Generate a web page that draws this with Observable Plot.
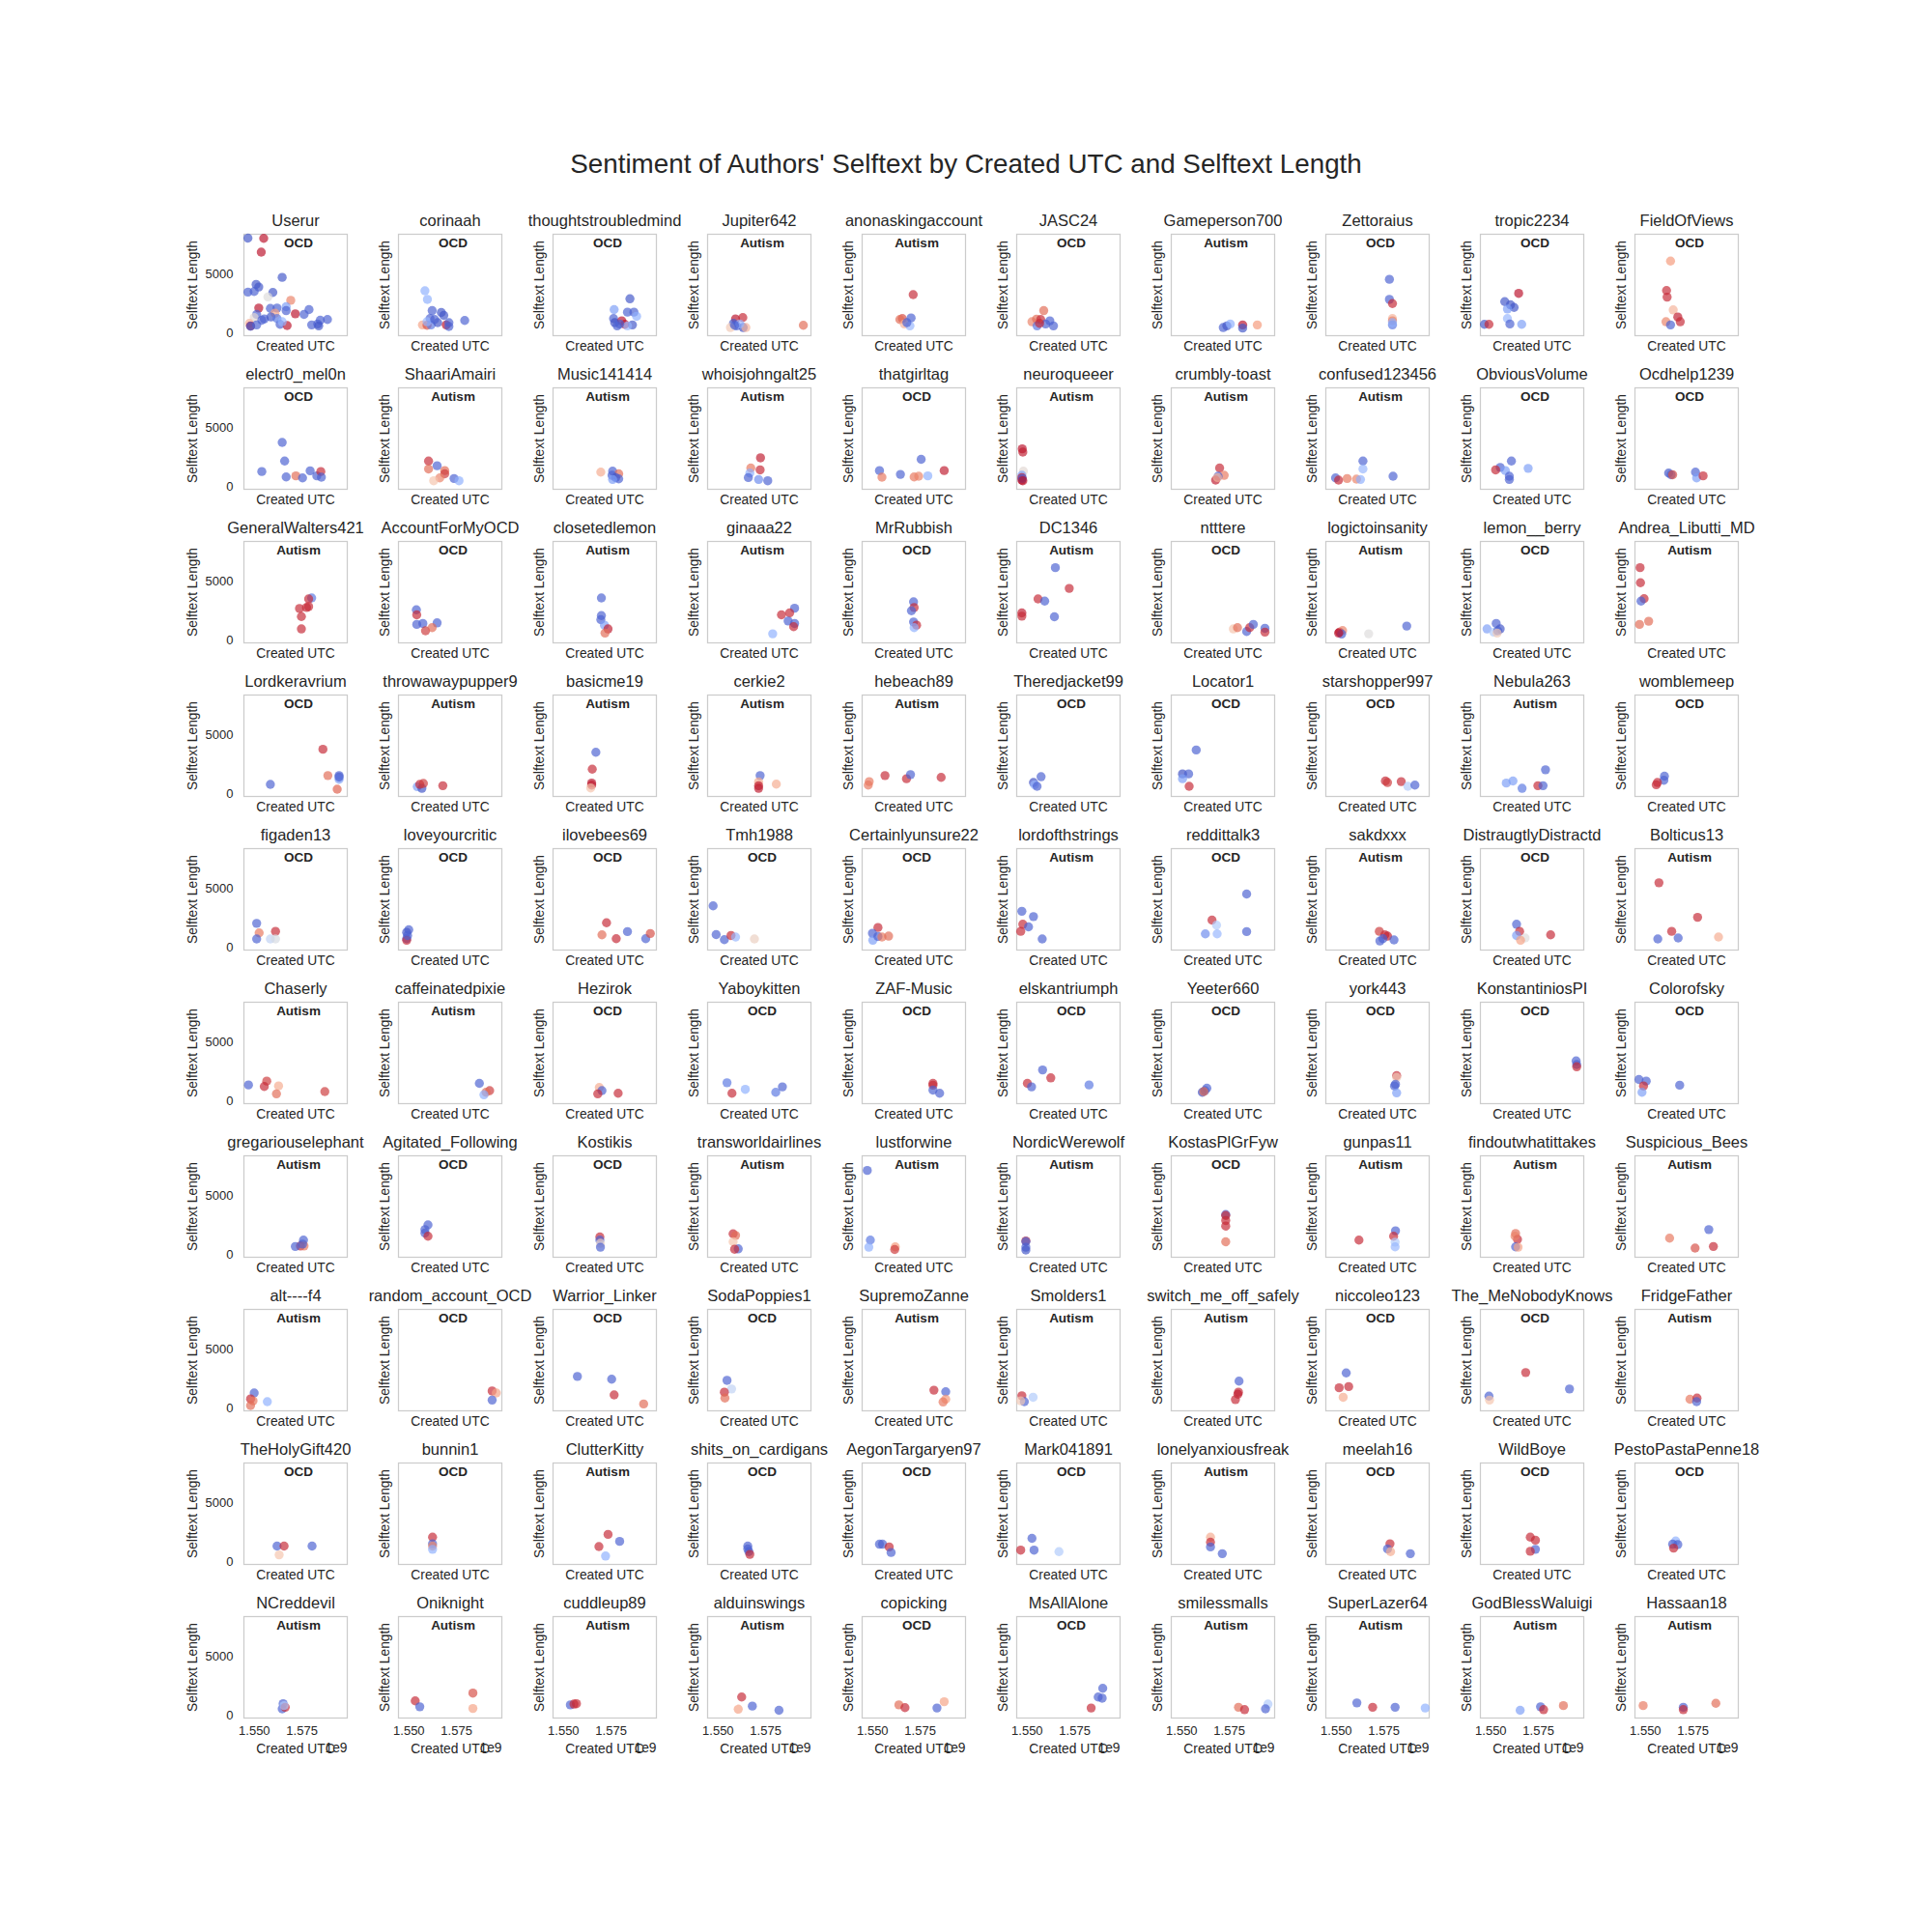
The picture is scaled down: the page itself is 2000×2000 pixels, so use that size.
<!DOCTYPE html>
<html><head><meta charset="utf-8">
<script src="https://cdn.jsdelivr.net/npm/d3@7"></script>
<script src="https://cdn.jsdelivr.net/npm/@observablehq/plot@0.6"></script>
<style>
html,body{margin:0;padding:0;background:#fff;}
#wrap{position:relative;width:2000px;height:2000px;background:#fff;font-family:"Liberation Sans",Arial,sans-serif;}
#title{position:absolute;left:0;top:156px;width:2000px;text-align:center;font-size:27.8px;line-height:28px;color:#262626;z-index:2;}
#chart{position:absolute;left:0;top:0;z-index:1;}
</style></head>
<body><div id="wrap"><div id="chart"></div><div id="title">Sentiment of Authors' Selftext by Created UTC and Selftext Length</div></div>
<script>
const authors = ["Userur","corinaah","thoughtstroubledmind","Jupiter642","anonaskingaccount","JASC24","Gameperson700","Zettoraius","tropic2234","FieldOfViews",
"electr0_mel0n","ShaariAmairi","Music141414","whoisjohngalt25","thatgirltag","neuroqueeer","crumbly-toast","confused123456","ObviousVolume","Ocdhelp1239",
"GeneralWalters421","AccountForMyOCD","closetedlemon","ginaaa22","MrRubbish","DC1346","ntttere","logictoinsanity","lemon__berry","Andrea_Libutti_MD",
"Lordkeravrium","throwawaypupper9","basicme19","cerkie2","hebeach89","Theredjacket99","Locator1","starshopper997","Nebula263","womblemeep",
"figaden13","loveyourcritic","ilovebees69","Tmh1988","Certainlyunsure22","lordofthstrings","reddittalk3","sakdxxx","DistraugtlyDistractd","Bolticus13",
"Chaserly","caffeinatedpixie","Hezirok","Yaboykitten","ZAF-Music","elskantriumph","Yeeter660","york443","KonstantiniosPI","Colorofsky",
"gregariouselephant","Agitated_Following","Kostikis","transworldairlines","lustforwine","NordicWerewolf","KostasPlGrFyw","gunpas11","findoutwhatittakes","Suspicious_Bees",
"alt----f4","random_account_OCD","Warrior_Linker","SodaPoppies1","SupremoZanne","Smolders1","switch_me_off_safely","niccoleo123","The_MeNobodyKnows","FridgeFather",
"TheHolyGift420","bunnin1","ClutterKitty","shits_on_cardigans","AegonTargaryen97","Mark041891","lonelyanxiousfreak","meelah16","WildBoye","PestoPastaPenne18",
"NCreddevil","Oniknight","cuddleup89","alduinswings","copicking","MsAllAlone","smilessmalls","SuperLazer64","GodBlessWaluigi","Hassaan18"];

const subreddit = ["OCD","OCD","OCD","Autism","Autism","OCD","Autism","OCD","OCD","OCD",
"OCD","Autism","Autism","Autism","OCD","Autism","Autism","Autism","OCD","OCD",
"Autism","OCD","Autism","Autism","OCD","Autism","OCD","Autism","OCD","Autism",
"OCD","Autism","Autism","Autism","Autism","OCD","OCD","OCD","Autism","OCD",
"OCD","OCD","OCD","OCD","OCD","Autism","OCD","Autism","OCD","Autism",
"Autism","Autism","OCD","OCD","OCD","OCD","OCD","OCD","OCD","OCD",
"Autism","OCD","OCD","Autism","Autism","Autism","OCD","Autism","Autism","Autism",
"Autism","OCD","OCD","OCD","Autism","Autism","Autism","OCD","OCD","Autism",
"OCD","OCD","Autism","OCD","OCD","OCD","Autism","OCD","OCD","OCD",
"Autism","Autism","Autism","Autism","OCD","OCD","Autism","Autism","Autism","Autism"];

// Created UTC, in units of 1e9 seconds
const createdUTC = [
[1.5466,1.5549,1.5536,1.5646,1.5509,1.5523,1.5466,1.5499,1.5597,1.5571,1.5691,1.5523,1.5584,1.5619,1.5667,1.5715,1.5787,1.5761,1.5608,1.5667,1.5512,1.5499,1.5552,1.5587,1.5474,1.5480,1.5480,1.5512,1.5635,1.5672,1.5801,1.5833,1.5846,1.5884,1.5838,1.5539,1.5619,1.5646],
[1.5584,1.5597,1.5622,1.5670,1.5683,1.5793,1.5571,1.5595,1.5611,1.5616,1.5651,1.5696,1.5710,1.5710,1.5595,1.5635],
[1.5849,1.5766,1.5836,1.5870,1.5884,1.5763,1.5769,1.5806,1.5822,1.5782,1.5862,1.5836,1.5795],
[1.5592,1.5630,1.5581,1.5597,1.5632,1.5565,1.5646,1.5614,1.5948,1.5587],
[1.5713,1.5656,1.5643,1.5702,1.5667,1.5696,1.5680],
[1.5587,1.5525,1.5549,1.5571,1.5552,1.5597,1.5619,1.5638,1.5565],
[1.5718,1.5737,1.5755,1.5820,1.5820,1.5897],
[1.5779,1.5779,1.5795,1.5795,1.5795,1.5795,1.5795],
[1.5646,1.5573,1.5603,1.5622,1.5587,1.5587,1.5600,1.5662,1.5466,1.5490],
[1.5632,1.5611,1.5614,1.5646,1.5670,1.5683,1.5608,1.5632],
[1.5646,1.5659,1.5539,1.5667,1.5718,1.5753,1.5793,1.5828,1.5849,1.5852],
[1.5603,1.5603,1.5648,1.5688,1.5688,1.5662,1.5630,1.5737,1.5763],
[1.5696,1.5758,1.5790,1.5755,1.5774,1.5790,1.5758],
[1.5723,1.5721,1.5672,1.5667,1.5659,1.5713,1.5761],
[1.5536,1.5549,1.5646,1.5718,1.5742,1.5755,1.5790,1.5876],
[1.5474,1.5477,1.5480,1.5472,1.5472,1.5472,1.5474,1.5477],
[1.5699,1.5723,1.5691,1.5678,1.5688],
[1.5640,1.5640,1.5496,1.5512,1.5557,1.5606,1.5627,1.5798],
[1.5608,1.5549,1.5525,1.5576,1.5696,1.5597,1.5597],
[1.5622,1.5635,1.5643,1.5763,1.5769,1.5803],
[1.5801,1.5785,1.5737,1.5774,1.5785,1.5747,1.5747],
[1.5539,1.5541,1.5541,1.5573,1.5648,1.5587,1.5622],
[1.5699,1.5699,1.5696,1.5715,1.5734,1.5718],
[1.5902,1.5876,1.5833,1.5868,1.5902,1.5897,1.5787],
[1.5715,1.5718,1.5704,1.5715,1.5731,1.5718],
[1.5648,1.5721,1.5557,1.5592,1.5472,1.5472,1.5643],
[1.5771,1.5793,1.5841,1.5857,1.5876,1.5937,1.5937],
[1.5517,1.5533,1.5528,1.5512,1.5670,1.5870],
[1.5528,1.5480,1.5549,1.5515,1.5536,1.5533],
[1.5472,1.5474,1.5493,1.5477,1.5517,1.5469],
[1.5584,1.5860,1.5886,1.5945,1.5945,1.5945,1.5935],
[1.5544,1.5568,1.5557,1.5576,1.5678],
[1.5670,1.5651,1.5648,1.5648,1.5643],
[1.5721,1.5713,1.5713,1.5713,1.5806],
[1.5482,1.5477,1.5565,1.5678,1.5699,1.5860],
[1.5573,1.5533,1.5539,1.5552],
[1.5576,1.5504,1.5536,1.5504,1.5539],
[1.5758,1.5769,1.5841,1.5876,1.5913],
[1.5787,1.5616,1.5581,1.5664,1.5747,1.5774],
[1.5600,1.5597,1.5563,1.5557],
[1.5512,1.5525,1.5512,1.5611,1.5584,1.5611],
[1.5499,1.5488,1.5488,1.5488,1.5493],
[1.5726,1.5702,1.5777,1.5836,1.5932,1.5956],
[1.5474,1.5490,1.5533,1.5568,1.5592,1.5691],
[1.5528,1.5499,1.5501,1.5528,1.5549,1.5584],
[1.5472,1.5533,1.5477,1.5507,1.5466,1.5579],
[1.5841,1.5659,1.5683,1.5624,1.5686,1.5841],
[1.5726,1.5755,1.5769,1.5729,1.5745,1.5803],
[1.5635,1.5651,1.5635,1.5680,1.5656,1.5814],
[1.5571,1.5774,1.5638,1.5565,1.5672,1.5884],
[1.5469,1.5565,1.5552,1.5627,1.5616,1.5870],
[1.5870,1.5924,1.5905,1.5894],
[1.5688,1.5702,1.5680,1.5787],
[1.5547,1.5573,1.5643,1.5803,1.5838],
[1.5817,1.5817,1.5817,1.5852],
[1.5581,1.5624,1.5501,1.5523,1.5825],
[1.5632,1.5622,1.5608,1.5616],
[1.5817,1.5817,1.5811,1.5806,1.5817],
[1.5948,1.5951,1.5951],
[1.5466,1.5504,1.5490,1.5482,1.5680],
[1.5758,1.5742,1.5715,1.5761,1.5753],
[1.5600,1.5584,1.5584,1.5600],
[1.5691,1.5691,1.5694,1.5694],
[1.5579,1.5592,1.5579,1.5606,1.5587],
[1.5472,1.5488,1.5480,1.5619,1.5616],
[1.5493,1.5493,1.5493,1.5493],
[1.5731,1.5731,1.5731,1.5731,1.5731],
[1.5619,1.5811,1.5801,1.5809,1.5809],
[1.5630,1.5640,1.5627,1.5630,1.5643],
[1.5627,1.5833,1.5761,1.5857],
[1.5499,1.5480,1.5493,1.5480,1.5568],
[1.5937,1.5959,1.5937],
[1.5573,1.5753,1.5766,1.5921],
[1.5547,1.5571,1.5533,1.5536],
[1.5822,1.5884,1.5884,1.5870],
[1.5472,1.5485,1.5531,1.5466],
[1.5801,1.5798,1.5795,1.5782],
[1.5552,1.5515,1.5565,1.5536],
[1.5683,1.5913,1.5490,1.5493],
[1.5734,1.5771,1.5769],
[1.5619,1.5656,1.5630,1.5803],
[1.5624,1.5624,1.5624,1.5624],
[1.5734,1.5795,1.5686,1.5721],
[1.5656,1.5656,1.5662,1.5667],
[1.5536,1.5552,1.5587,1.5597],
[1.5525,1.5466,1.5536,1.5667],
[1.5651,1.5651,1.5651,1.5713],
[1.5782,1.5769,1.5785,1.5889],
[1.5707,1.5734,1.5734,1.5707],
[1.5659,1.5643,1.5670,1.5648],
[1.5651,1.5646,1.5662,1.5656],
[1.5533,1.5557,1.5836,1.5836],
[1.5536,1.5555,1.5568],
[1.5624,1.5680,1.5606,1.5820],
[1.5638,1.5670,1.5838,1.5876],
[1.5897,1.5873,1.5894,1.5836],
[1.5798,1.5830,1.5953,1.5940],
[1.5608,1.5691,1.5809,1.5967],
[1.5654,1.5761,1.5777,1.5881],
[1.5488,1.5699,1.5699,1.5870]
];

const selftextLength = [
[8070,8050,6890,4750,4160,3940,3510,3560,3480,3100,2810,2160,2130,2160,2270,1670,2030,1620,1730,1940,1620,1350,1240,1400,860,650,620,730,780,675,730,810,1130,1190,650,1130,1270,1000],
[3620,2890,1940,1780,1540,1110,730,700,1270,730,920,730,920,600,1000,1190],
[2940,2030,1810,1810,1460,1270,920,1080,780,650,730,650,810],
[1240,1350,860,650,510,510,510,810,700,700],
[3290,1270,1190,1320,810,650,920],
[1940,1000,1220,1190,650,810,1080,650,860],
[510,650,810,730,460,730],
[4590,2890,2540,1270,1080,730,920],
[3400,2700,2430,2210,2080,1270,810,780,780,780],
[6130,3640,3080,2000,1400,1000,1000,730],
[3780,2210,1320,860,950,780,1380,950,1320,840],
[2210,1540,1810,1400,1130,780,540,730,540],
[1270,1350,1130,1000,810,700,650],
[2480,1460,1620,1190,810,650,540],
[1400,840,1080,860,920,2350,950,1400],
[3240,2970,1350,1000,810,600,730,540],
[1620,1000,920,600,810],
[2210,1540,780,600,730,680,650,920],
[2210,1670,1460,1400,1590,920,650],
[1190,1050,1050,1270,780,950],
[3620,3540,2730,2810,2890,2050,1000],
[2620,2190,1380,1460,1510,840,1110],
[3620,2130,1780,1320,1000,650],
[2750,2350,2190,1670,1460,1190,590],
[3290,2810,2540,1590,1320,1110],
[6180,4430,3540,3350,2350,2080,2030],
[1000,1110,780,1110,1380,1050,730],
[730,860,570,650,590,1240],
[1460,1000,1000,730,840,650],
[6180,4910,3560,3350,1650,1380],
[840,3810,1590,1590,1270,1460,430],
[650,510,840,920,730],
[3560,2130,950,780,540],
[1590,1050,730,510,860],
[1080,780,1590,1320,1670,1430],
[1490,1000,810,680],
[3750,1730,1730,1320,680],
[1130,1000,1080,680,780],
[2080,1130,950,510,730,730],
[1540,1190,1000,810],
[2080,1270,760,1400,760,760],
[1540,1320,780,650,1050],
[2130,1110,780,1380,780,1220],
[3560,1130,700,1050,920,760],
[1730,1240,650,970,920,1000],
[3100,2650,2000,1780,1400,760],
[4560,2350,1920,1190,1190,1380],
[1400,1110,1000,590,780,680],
[2000,1400,1050,840,650,1110],
[5510,2590,1400,760,840,920],
[1400,1730,1270,1320,650,840],
[1540,920,780,570],
[1190,920,650,700],
[1590,700,1030,780,1240],
[1540,1380,970,700],
[2670,2000,1540,1240,1400],
[1130,920,780,840],
[2190,2050,1460,1320,730],
[3430,3130,2940],
[1860,1730,1320,780,1380],
[1270,770,730,770,930],
[2560,2160,1860,1600],
[1530,1270,1000,670],
[1800,1670,1130,530,500],
[7160,1270,670,700,470],
[1200,1150,670,430],
[3430,3350,2930,2460,1130],
[1270,2060,1600,1100,700],
[1830,1330,1600,700,670],
[1430,2160,600,730],
[1330,830,670,270,600],
[1500,1330,730],
[2730,2500,1170,400],
[2400,1670,1400,900],
[1570,1430,800,570],
[1100,600,970,670],
[2330,1400,1230,770],
[3030,1770,1870,970],
[3060,1670,1070,730],
[800,900,600],
[1370,1370,630,1370],
[2130,1570,1370,1100],
[2360,1770,1330,530],
[1370,1130,900,670],
[1530,1530,1300,830],
[2030,1030,1030,900],
[2130,1700,1300,730],
[1570,1130,900,730],
[2130,1870,1100,930],
[1800,1530,1500,1200],
[1030,600,730,870],
[1270,770,1930,630],
[930,1000,1030],
[1600,830,570,470],
[930,700,670,1200],
[2330,1600,1500,670],
[730,530,1000,600],
[1100,730,730,670],
[470,770,530,870],
[870,730,530,1070]
];

const sentiment = [
[-0.95,0.96,0.96,-0.95,-0.95,-0.95,-0.9,-0.9,-0.95,0,0.6,0.96,-0.9,-0.9,-0.6,0.96,-0.9,-0.9,0.45,-0.9,-0.9,0.05,-0.9,-0.95,0.35,0.96,-0.95,-0.9,-0.9,0.96,-0.9,-0.9,-0.9,-0.9,-0.95,-0.9,-0.8,-0.45],
[-0.5,-0.5,-0.9,-0.95,-0.95,-0.9,0.45,0.8,-0.9,-0.8,-0.95,0.96,-0.9,-0.9,-0.45,-0.9],
[-0.95,-0.6,-0.9,-0.9,-0.5,-0.9,-0.98,0.96,0.96,-0.9,-0.95,-0.45,-0.9],
[0.96,0.9,-0.95,-0.9,-0.98,0.2,0.35,-0.45,0.7,-0.9],
[0.9,0.8,0.7,-0.9,0.35,-0.45,-0.9],
[0.7,0.6,0.7,0.9,-0.8,-0.9,-0.9,-0.9,0.9],
[-0.9,-0.95,-0.5,0.96,-0.95,0.5],
[-0.9,-0.9,0.9,0.35,0.6,-0.8,-0.5],
[0.96,-0.95,-0.95,-0.95,-0.6,-0.45,-0.9,-0.6,-0.95,0.9],
[0.5,0.9,0.9,0.35,0.93,0.9,0.6,-0.9],
[-0.9,-0.9,-0.9,-0.9,0.7,-0.9,-0.9,-0.9,0.9,-0.9],
[0.9,0.7,-0.9,0.7,0.85,0.6,0.25,-0.9,-0.5],
[0.4,-0.9,0.7,-0.9,-0.95,-0.9,-0.6],
[0.93,0.9,0.65,-0.5,-0.9,-0.7,-0.9],
[-0.9,0.65,-0.9,0.65,0.6,-0.9,-0.5,0.93],
[0.96,0.93,0.05,-0.6,0.93,0.96,-0.9,0.96],
[0.9,0.65,-0.9,0.93,0.35],
[-0.9,-0.45,-0.9,0.9,0.65,0.6,-0.5,-0.9],
[-0.9,-0.9,0.9,-0.6,-0.6,-0.9,-0.9],
[-0.95,-0.9,0.8,-0.9,-0.6,0.9],
[-0.8,0.9,0.9,0.9,0.9,0.9,0.9],
[-0.9,0.9,-0.9,-0.9,-0.9,0.85,0.7],
[-0.9,-0.9,-0.9,-0.6,0.93,0.7],
[-0.9,0.9,0.9,-0.9,-0.9,0.9,-0.5],
[-0.9,0.9,-0.9,-0.9,0.9,-0.5],
[-0.9,0.9,0.9,-0.9,0.93,0.9,-0.9],
[0.25,0.7,-0.9,0.9,-0.9,-0.9,0.9],
[0.96,0.6,-0.9,0.96,0,-0.9],
[-0.9,-0.6,-0.95,-0.3,-0.9,0.2],
[0.9,0.9,0.9,-0.9,0.7,0.7],
[-0.9,0.9,0.7,-0.9,-0.6,-0.9,0.75],
[-0.6,-0.95,0.9,0.85,0.9],
[-0.9,0.9,0.96,0.93,0.25],
[-0.9,0.4,0.93,0.93,0.4],
[0.65,0.65,0.9,0.9,-0.9,0.9],
[-0.9,-0.98,-0.45,-0.9],
[-0.9,-0.98,-0.9,-0.6,0.9],
[0.9,0.85,0.9,-0.3,-0.9],
[-0.9,-0.6,-0.6,-0.8,0.9,-0.9],
[-0.9,-0.9,0.9,0.9],
[-0.9,0.65,-0.9,0.9,-0.2,-0.05],
[-0.9,-0.95,-0.9,0.9,-0.9],
[0.9,0.7,0.9,-0.9,-0.9,0.8],
[-0.9,-0.9,-0.9,0.9,-0.45,0.15],
[0.9,-0.9,-0.6,-0.9,0.65,0.7],
[-0.9,-0.9,0.9,-0.9,0.9,-0.9],
[-0.9,0.9,-0.3,-0.7,-0.45,-0.9],
[0.85,0.9,0.93,-0.9,-0.9,-0.9],
[-0.9,0.9,-0.6,0,0.45,0.9],
[0.9,0.9,0.9,-0.9,-0.9,0.4],
[-0.9,0.85,0.9,0.4,0.7,0.85],
[-0.9,0.85,0.7,-0.5],
[0.4,-0.9,0.9,0.9],
[-0.8,0.9,-0.5,-0.8,-0.9],
[0.9,0.9,-0.9,-0.9],
[-0.9,0.9,0.9,-0.9,-0.8],
[-0.9,-0.9,-0.98,0.7],
[0.9,0.2,-0.9,-0.9,-0.6],
[-0.9,-0.9,0.9],
[-0.9,-0.9,0.9,-0.6,-0.9],
[-0.9,0.9,-0.9,0.65,-0.9],
[-0.9,-0.9,-0.9,0.9],
[0.9,-0.9,0.1,-0.9],
[0.9,0.7,0.25,-0.9,0.9],
[-0.9,-0.8,-0.5,0.5,0.85],
[0.9,-0.9,-0.9,-0.95],
[-0.9,0.9,0.9,0.9,0.7],
[0.9,-0.9,0.9,-0.3,-0.45],
[0.7,0.9,0.6,-0.9,0.45],
[0.65,-0.9,0.8,0.9],
[-0.9,0.9,0.65,0.7,-0.5],
[0.9,0.45,-0.9],
[-0.9,-0.9,0.9,0.7],
[-0.9,-0.2,0.9,0.7],
[0.9,-0.9,0.5,0.65],
[0.9,-0.9,-0.3,0.2],
[-0.9,0.9,0.93,0.9],
[-0.9,0.9,0.9,0.4],
[0.9,-0.9,-0.9,0.25],
[0.65,0.9,-0.9],
[-0.9,0.9,0.25,-0.9],
[0.9,-0.9,0.6,-0.5],
[0.9,-0.9,0.9,-0.5],
[-0.9,-0.9,-0.9,0.9],
[-0.9,-0.9,0.9,-0.9],
[-0.9,0.9,-0.9,-0.3],
[0.4,0.9,-0.9,-0.9],
[0.9,-0.9,0.4,-0.9],
[0.9,0.9,-0.9,0.9],
[-0.5,-0.9,-0.9,0.9],
[-0.9,-0.9,0.9,-0.3],
[0.9,-0.9,0.8,0.45],
[-0.9,0.9,0.9],
[0.9,-0.9,0.45,-0.9],
[0.7,0.9,-0.9,0.45],
[-0.9,-0.9,-0.9,0.9],
[0.7,0.9,-0.3,-0.9],
[-0.9,0.9,-0.9,-0.5],
[-0.6,-0.9,0.9,0.7],
[0.65,-0.9,0.9,0.7]
];

const xDomain = [1.5445, 1.5988];   // x 1e9
const yDomain = [-180, 8400];
const xTicks = [1.550, 1.575];
const yTicks = [0, 5000];
const coolwarmStops = ["#3b4cc0","#6282ea","#8db0fe","#b8d0f9","#dddcdc","#f5c4ad","#f49a7b","#de604d","#b40426"];

const points = [];
authors.forEach((name, k) => {
  createdUTC[k].forEach((x, i) => {
    points.push({col: k % 10, row: Math.floor(k / 10), x, y: selftextLength[k][i], s: sentiment[k][i]});
  });
});
const panels = authors.map((name, k) => ({col: k % 10, row: Math.floor(k / 10), name, sub: subreddit[k]}));
const coolwarm = d3.piecewise(d3.interpolateRgb, coolwarmStops);
const ink = "#262626";

const chart = Plot.plot({
  width: 2000,
  height: 2000,
  marginLeft: 250,
  marginRight: 200,
  marginTop: 241,
  marginBottom: 221,
  style: {fontFamily: "'Liberation Sans', Arial, sans-serif", fontSize: "13px", background: "transparent", color: ink, overflow: "visible"},
  fx: {domain: d3.range(10), paddingInner: 0.3325, paddingOuter: 0, axis: null},
  fy: {domain: d3.range(10), paddingInner: 0.3405, paddingOuter: 0, axis: null},
  x: {domain: xDomain},
  y: {domain: yDomain},
  color: {type: "linear", domain: [-1, 1], interpolate: coolwarm},
  marks: [
    Plot.frame({stroke: "#cccccc", strokeWidth: 1.25}),
    Plot.dot(points, {fx: "col", fy: "row", x: "x", y: "y", fill: "s", r: 4.7, fillOpacity: 0.68}),
    Plot.axisY({ticks: yTicks, tickFormat: d => String(d), tickSize: 0, tickPadding: 11, fontSize: 13, label: null, facetAnchor: "left", fill: ink}),
    Plot.axisX({ticks: xTicks, tickFormat: d => d.toFixed(3), tickSize: 0, tickPadding: 8, fontSize: 13, label: null, facetAnchor: "bottom", fill: ink}),
    Plot.text(panels, {fx: "col", fy: "row", frameAnchor: "top", text: "name", dy: -8.5, lineAnchor: "bottom", fontSize: 16.5, fill: ink}),
    Plot.text(panels, {fx: "col", fy: "row", frameAnchor: "top", text: "sub", dy: 9, dx: 3, lineAnchor: "middle", fontSize: 13.5, fontWeight: "bold", fill: ink}),
    Plot.text(panels, {filter: d => d.col === 0, fx: "col", fy: "row", frameAnchor: "left", text: () => "Selftext Length", rotate: -90, textAnchor: "middle", lineAnchor: "middle", dx: -53, fontSize: 13.8, fill: ink}),
    Plot.text(panels, {filter: d => d.col > 0, fx: "col", fy: "row", frameAnchor: "left", text: () => "Selftext Length", rotate: -90, textAnchor: "middle", lineAnchor: "middle", dx: -13.6, fontSize: 13.8, fill: ink}),
    Plot.text(panels, {filter: d => d.row < 9, fx: "col", fy: "row", frameAnchor: "bottom", text: () => "Created UTC", dy: 11, lineAnchor: "middle", fontSize: 13.8, fill: ink}),
    Plot.text(panels, {filter: d => d.row === 9, fx: "col", fy: "row", frameAnchor: "bottom", text: () => "Created UTC", dy: 32, lineAnchor: "middle", fontSize: 13.8, fill: ink}),
    Plot.text(panels, {filter: d => d.row === 9, fx: "col", fy: "row", frameAnchor: "bottom-right", text: () => "1e9", textAnchor: "end", dy: 31, lineAnchor: "middle", fontSize: 13.8, fill: ink})
  ]
});
document.getElementById("chart").appendChild(chart);
</script></body></html>
